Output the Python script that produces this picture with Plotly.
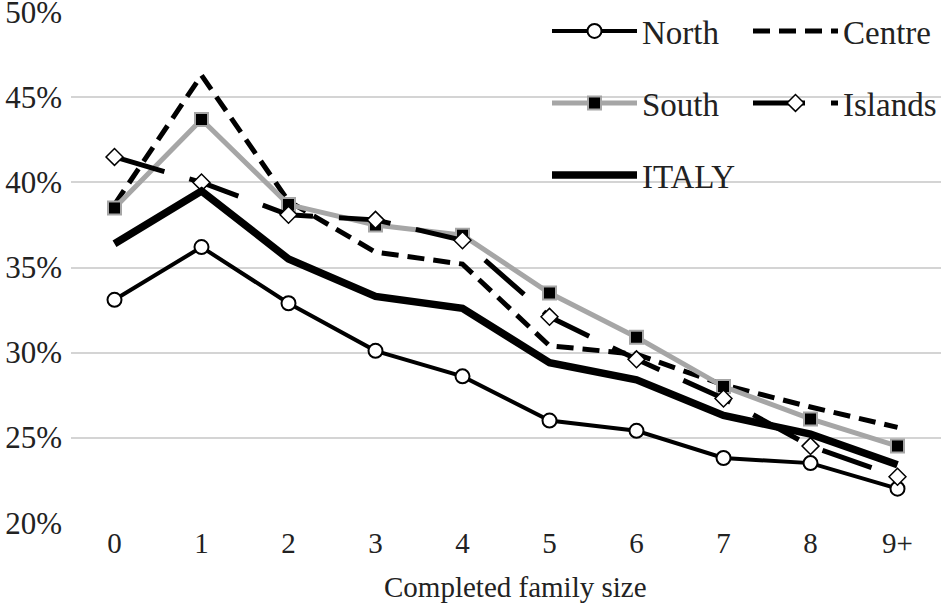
import plotly.graph_objects as go

categories = ["0", "1", "2", "3", "4", "5", "6", "7", "8", "9+"]
north = [33.1, 36.2, 32.9, 30.1, 28.6, 26.0, 25.4, 23.8, 23.5, 22.0]
centre = [38.7, 46.3, 38.9, 35.9, 35.2, 30.4, 29.9, 28.1, 26.8, 25.6]
south = [38.5, 43.7, 38.7, 37.5, 36.9, 33.5, 30.9, 28.0, 26.1, 24.5]
islands = [41.5, 40.0, 38.1, 37.8, 36.6, 32.1, 29.6, 27.3, 24.5, 22.7]
italy = [36.4, 39.5, 35.5, 33.3, 32.6, 29.4, 28.4, 26.3, 25.2, 23.4]
y_ticks = [20, 25, 30, 35, 40, 45, 50]
y_tick_labels = ["20%", "25%", "30%", "35%", "40%", "45%", "50%"]
x_title = "Completed family size"

FONT = "Liberation Serif, Times New Roman, Times, serif"
fig = go.Figure()

fig.add_trace(go.Scatter(
    x=categories, y=north, name="North", mode="lines+markers",
    line=dict(color="black", width=4),
    marker=dict(symbol="circle", size=14, color="white", line=dict(color="black", width=2)),
    legend="legend"))
fig.add_trace(go.Scatter(
    x=categories, y=centre, name="Centre", mode="lines",
    line=dict(color="black", width=5, dash="17px,9px"),
    legend="legend"))
fig.add_trace(go.Scatter(
    x=categories, y=south, name="South", mode="lines+markers",
    line=dict(color="#a6a6a6", width=5),
    marker=dict(symbol="square", size=13, color="black", line=dict(color="#a6a6a6", width=2)),
    legend="legend2"))
fig.add_trace(go.Scatter(
    x=categories, y=islands, name="Islands", mode="lines+markers",
    line=dict(color="black", width=5, dash="52px,26px"),
    marker=dict(symbol="diamond", size=13, color="white", line=dict(color="black", width=1.5)),
    legend="legend2"))
fig.add_trace(go.Scatter(
    x=categories, y=italy, name="ITALY", mode="lines",
    line=dict(color="black", width=7.5),
    legend="legend3"))

ml, mr, mt, mb = 71, 3, 12, 87
pw = 944 - ml - mr
ph = 610 - mt - mb

def py(pix):
    return (610 - mb - pix) / ph

def px(pix):
    return (pix - ml) / pw

leg_common = dict(orientation="h", xanchor="left", yanchor="middle",
                  x=px(547), bgcolor="rgba(0,0,0,0)",
                  font=dict(family=FONT, size=33, color="#222"),
                  itemwidth=85, entrywidth=101, itemclick=False)

fig.update_layout(
    width=944, height=610,
    margin=dict(l=ml, r=mr, t=mt, b=mb, autoexpand=False),
    paper_bgcolor="white", plot_bgcolor="white",
    showlegend=True,
    legend=dict(leg_common, y=py(31)),
    legend2=dict(leg_common, y=py(103)),
    legend3=dict(leg_common, y=py(175)),
    xaxis=dict(type="category", range=[-0.5, 9.5], showgrid=False, zeroline=False,
               showline=False, ticks="", tickfont=dict(family=FONT, size=29, color="#222")),
    yaxis=dict(range=[19.98, 50.02], tickmode="array", tickvals=y_ticks, ticktext=y_tick_labels,
               showgrid=True, gridcolor="#d4d4d4", gridwidth=2, zeroline=False, showline=False,
               ticks="", ticklabelstandoff=8, ticklabeloverflow="allow",
               tickfont=dict(family=FONT, size=31, color="#222")),
    annotations=[dict(text=x_title, xref="paper", yref="paper", x=px(515), y=py(587),
                      xanchor="center", yanchor="middle", showarrow=False,
                      font=dict(family=FONT, size=29, color="#222"))],
    shapes=[dict(type="rect", xref="paper", yref="paper", layer="between",
                 x0=px(548), x1=px(938), y0=py(205), y1=1.05,
                 fillcolor="white", line=dict(width=0))],
)

fig.write_html("out.html", config={"displayModeBar": False},
               post_script="document.body.style.margin='0';document.body.style.overflow='hidden';")
